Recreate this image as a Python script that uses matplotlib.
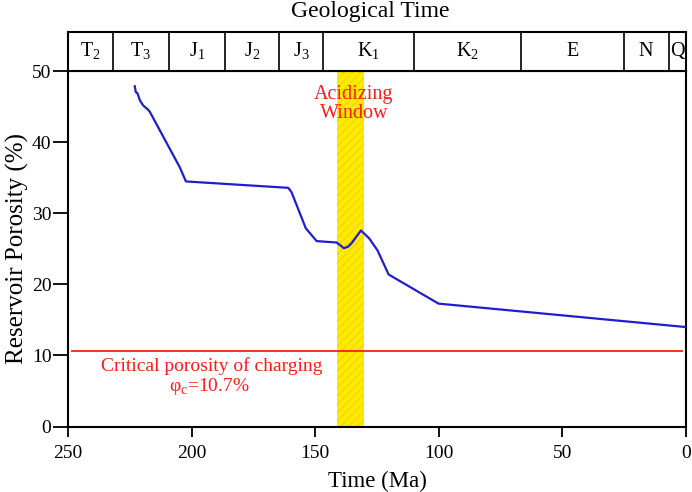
import matplotlib
matplotlib.use("Agg")
import matplotlib.pyplot as plt

plt.rcParams["font.family"] = ["Liberation Serif", "DejaVu Serif"]
plt.rcParams["mathtext.fontset"] = "custom"
plt.rcParams["mathtext.rm"] = "Liberation Serif"
plt.rcParams["hatch.linewidth"] = 0.8

# porosity evolution curve (Ma, %)
time_ma = [223.0, 222.6, 221.9, 220.9, 219.6, 217.6, 216.9, 204.8, 202.3,
           160.9, 159.6, 153.8, 149.4, 141.3, 139.8, 138.4, 136.8, 135.3,
           131.5, 128.2, 124.8, 120.3, 100.1, 0.0]
porosity = [47.9, 47.1, 46.9, 45.9, 45.2, 44.6, 44.3, 36.5, 34.5,
            33.6, 33.0, 27.9, 26.1, 25.9, 25.5, 25.1, 25.3, 25.8,
            27.6, 26.5, 24.8, 21.4, 17.3, 14.0]

critical_porosity = 10.7
acid_window = (141.1, 130.4)

# geological column
period_bounds = [250, 232, 209.2, 186.5, 164.7, 146.8, 110.0, 66.6, 25.2, 7.0, 0]
period_labels = [r"T$_\mathregular{2}$", r"T$_\mathregular{3}$", r"J$_\mathregular{1}$",
                 r"J$_\mathregular{2}$", r"J$_\mathregular{3}$", r"K$_\mathregular{1}$",
                 r"K$_\mathregular{2}$", "E", "N", "Q"]

fig = plt.figure(figsize=(6.92, 4.92), dpi=100)
ax = fig.add_axes([0.0983, 0.1331, 0.893, 0.7219])
ax_top = fig.add_axes([0.0983, 0.855, 0.893, 0.0806])

# acidizing window band
ax.axvspan(acid_window[0], acid_window[1], facecolor="#FFEA00",
           edgecolor="#EFD400", hatch="////", linewidth=0, zorder=1)

ax.plot(time_ma, porosity, color="#1E1ECF", lw=1.6, zorder=3)
ax.plot([248.2, 1.5], [critical_porosity, critical_porosity],
        color="#FF1A1A", lw=1.3, zorder=2)

ax.text(134.4, 45.4, "Acidizing\nWindow", color="#FF1A1A", fontsize=14.5,
        ha="center", va="center", linespacing=0.95, zorder=4)
ax.text(192, 8.5, "Critical porosity of charging", color="#FF1A1A",
        fontsize=14, ha="center", va="center")
ax.text(192.8, 5.6, r"φ$_\mathregular{c}$=10.7%", color="#FF1A1A",
        fontsize=14, ha="center", va="center")

ax.set_xlim(250, 0)
ax.set_ylim(0, 50)
ax.set_xticks([250, 200, 150, 100, 50, 0])
ax.set_yticks([0, 10, 20, 30, 40, 50])
ax.tick_params(axis="x", direction="out", length=7, width=1.3, labelsize=14, pad=6)
ax.tick_params(axis="y", direction="out", length=11, width=1.3, labelsize=14, pad=1)
for sp in ax.spines.values():
    sp.set_linewidth(1.5)
ax.set_xlabel("Time (Ma)", fontsize=16.5, labelpad=7)
ax.set_ylabel("Reservoir Porosity (%)", fontsize=18, labelpad=2)

# column of geological periods
ax_top.set_xlim(250, 0)
ax_top.set_ylim(0, 1)
ax_top.set_xticks([])
ax_top.set_yticks([])
for sp in ax_top.spines.values():
    sp.set_linewidth(1.5)
for b in period_bounds[1:-1]:
    ax_top.axvline(b, color="black", lw=1.2)
for i, lab in enumerate(period_labels):
    mid = (period_bounds[i] + period_bounds[i + 1]) / 2
    ax_top.text(mid, 0.5, lab, fontsize=14.5, ha="center", va="center")

fig.text(0.5357, 0.977, "Geological Time", fontsize=17, ha="center", va="center")

fig.savefig("out.png", dpi=100)
